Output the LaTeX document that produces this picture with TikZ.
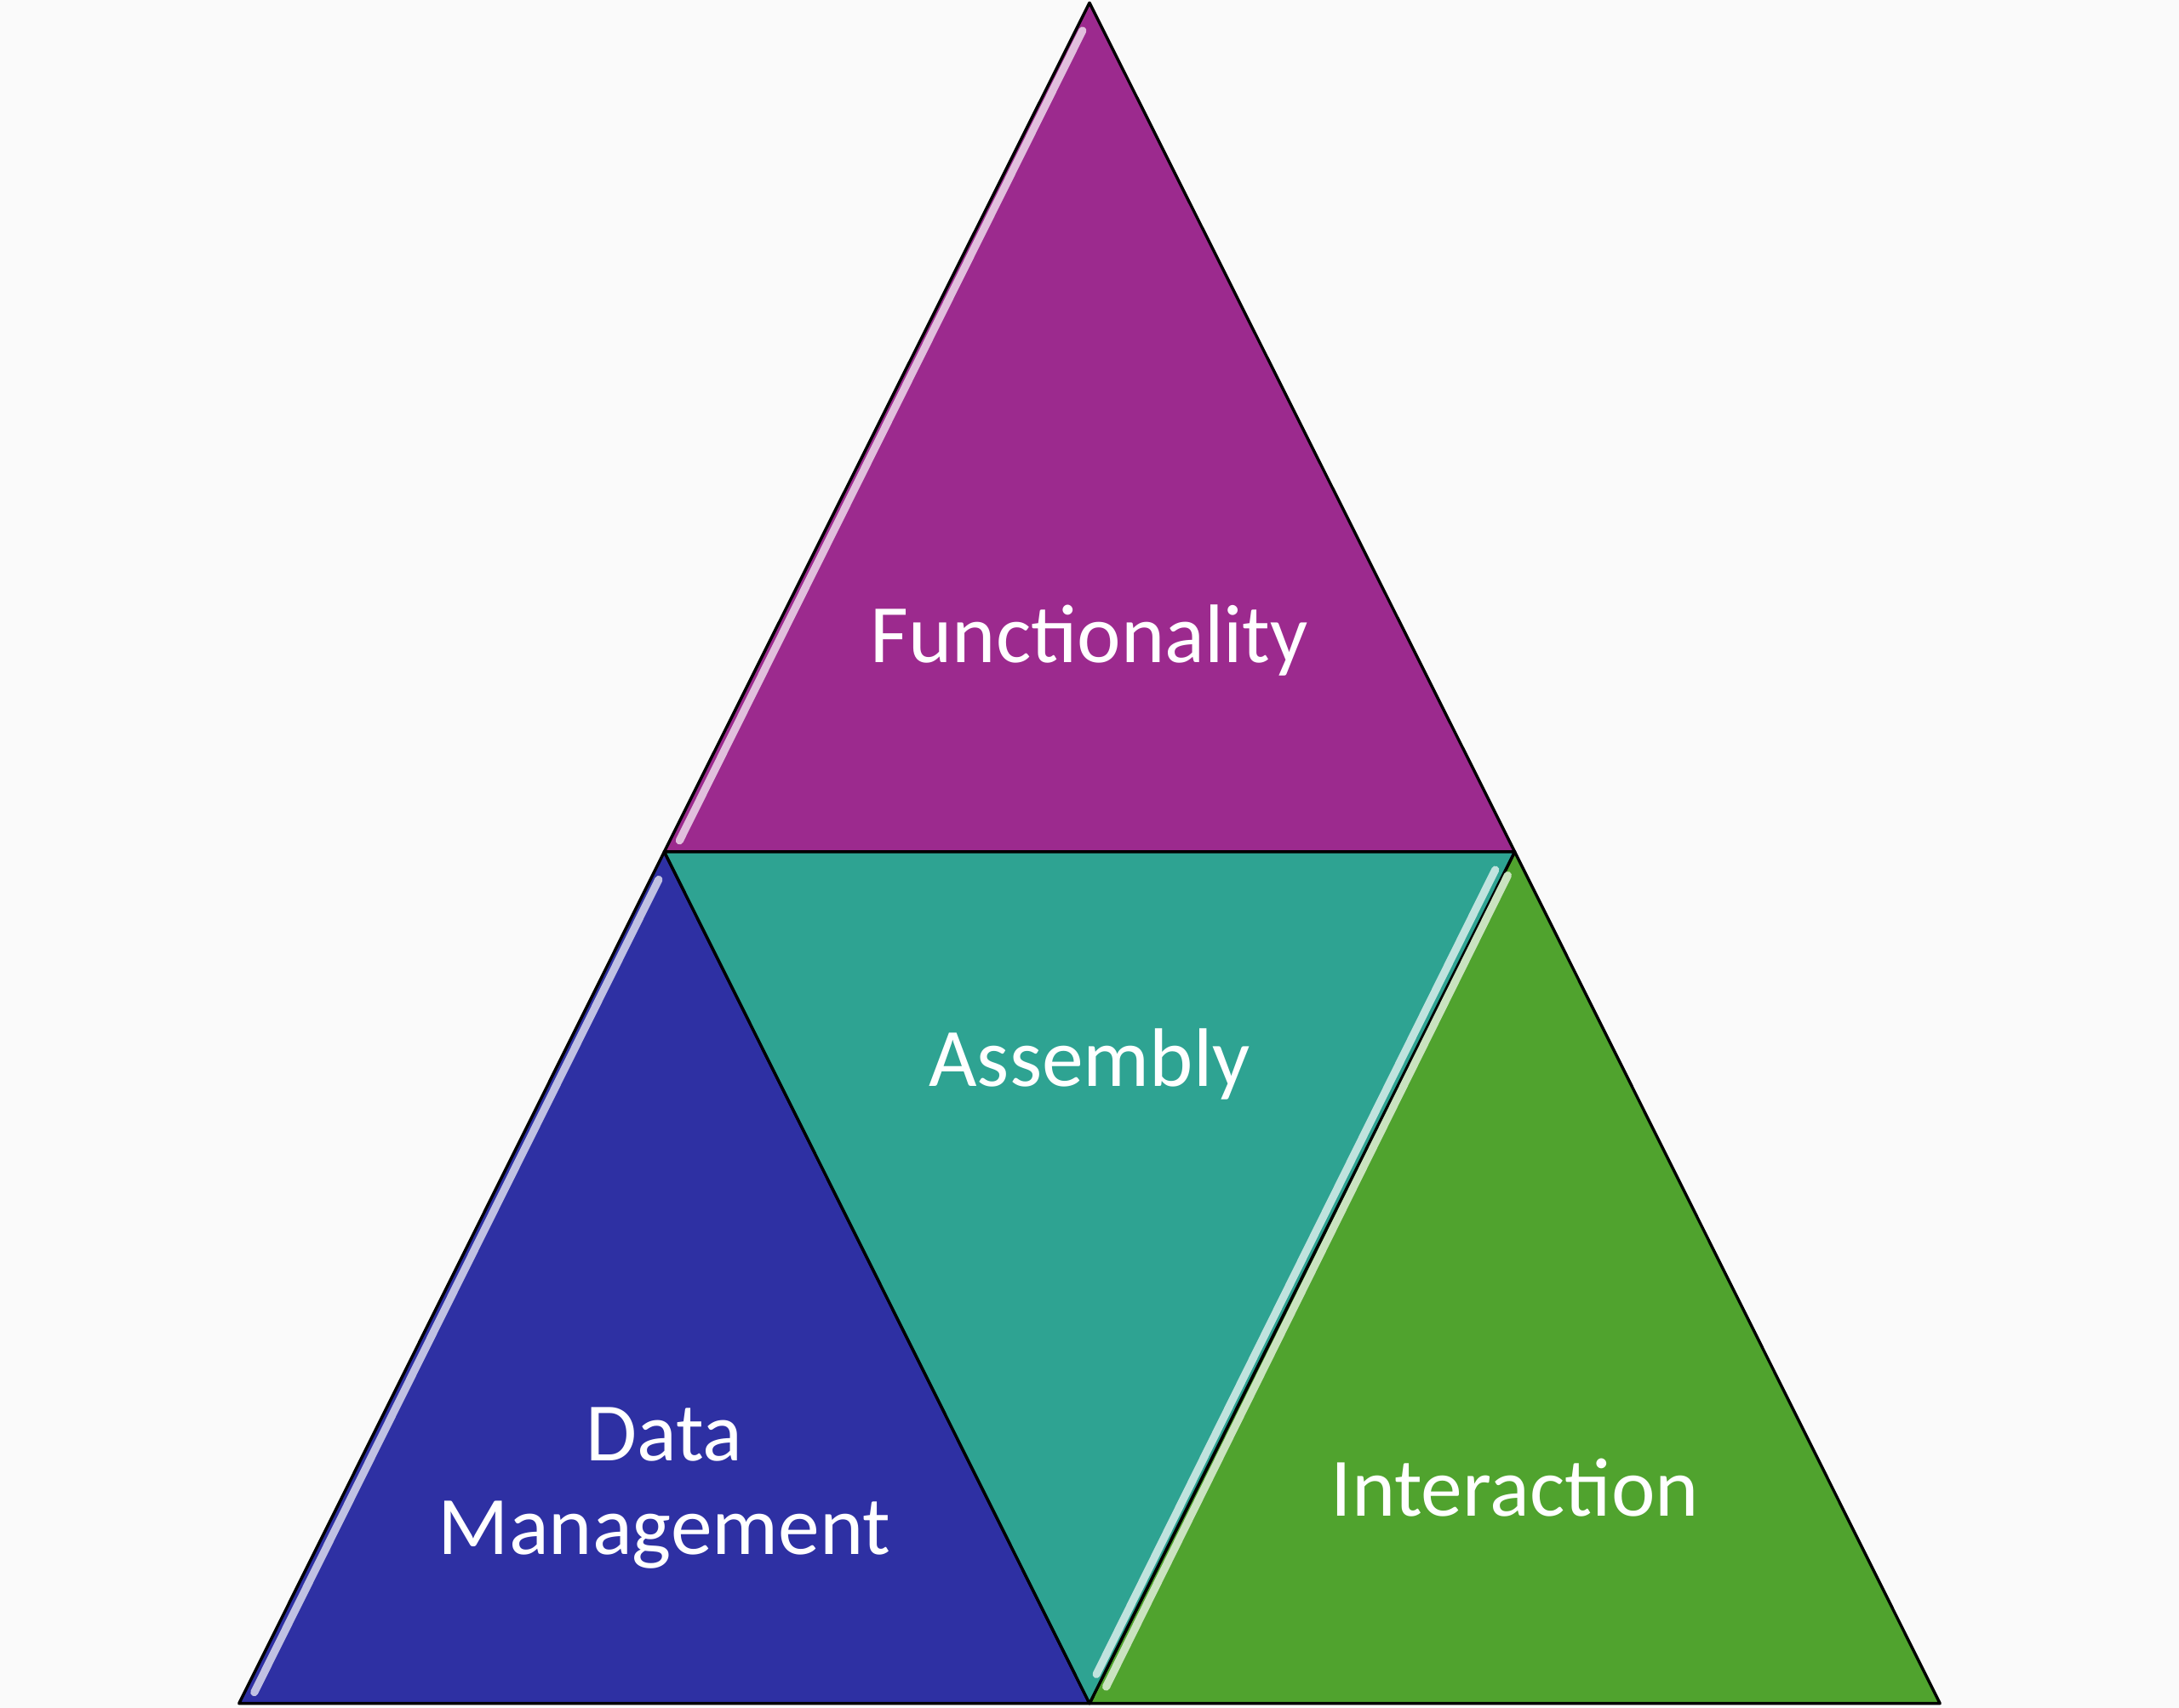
\documentclass[tikz,border=0pt]{standalone}
\usepackage{fontspec}
\setmainfont{Carlito}
\definecolor{funccol}{HTML}{9C2A8E}
\definecolor{asmcol}{HTML}{2EA392}
\definecolor{datacol}{HTML}{2E30A3}
\definecolor{intcol}{HTML}{50A32E}
\begin{document}
\begin{tikzpicture}[x=0.01cm,y=-0.01cm]
\tikzset{tri/.style={draw=black, line width=0.6pt, line join=round},
  shine/.style={line width=1.6pt, line cap=round},
  lbl/.style={text=white, font=\fontsize{17}{19}\selectfont, align=center}}
\fill[white!98!black] (0,0) rectangle (1568,1229);

\coordinate (apex) at (784,2);
\coordinate (ml) at (478,613);
\coordinate (mr) at (1090,613);
\coordinate (bl) at (172,1226);
\coordinate (bm) at (784,1226);
\coordinate (br) at (1396,1226);

% four triangles
\filldraw[tri, fill=funccol] (apex) -- (mr) -- (ml) -- cycle;
\filldraw[tri, fill=datacol] (ml) -- (bm) -- (bl) -- cycle;
\filldraw[tri, fill=intcol] (mr) -- (br) -- (bm) -- cycle;
\filldraw[tri, fill=asmcol] (ml) -- (mr) -- (bm) -- cycle;

% highlights along the left edges
\draw[shine, funccol!30!white] (779,22) -- (489,605);
\draw[shine, datacol!30!white] (474,633) -- (183,1218);
\draw[shine, intcol!30!white] (1085,630) -- (796,1214);
\draw[shine, asmcol!30!white] (1076,626) -- (789,1205);

\node[lbl] (func) at (784,461) {Functionality};
\node[lbl] (asm) at (784,766) {Assembly};
\node[lbl] (data) at (478,1071) {Data\\Management};
\node[lbl] (inter) at (1090,1071) {Interaction};
\end{tikzpicture}
\end{document}
